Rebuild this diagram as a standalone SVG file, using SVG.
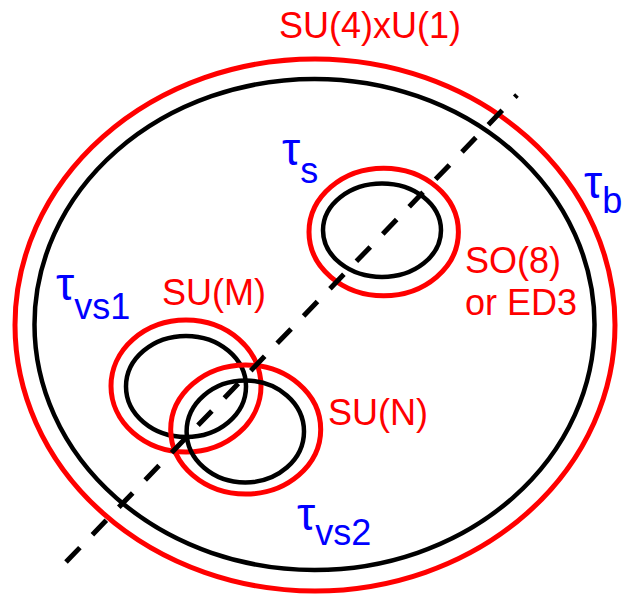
<svg xmlns="http://www.w3.org/2000/svg" width="627" height="596" viewBox="0 0 627 596">
<style>
.r{fill:none;stroke:#ff0000;stroke-width:5}
.k{fill:none;stroke:#000000;stroke-width:4.5}
.lr{font-family:"Liberation Sans",Arial,sans-serif;font-size:36px;fill:#ff0000}
.lb{font-family:"Liberation Sans",Arial,sans-serif;font-size:36px;fill:#0000ff}
.t{font-size:46px}
.d{stroke:#000;stroke-width:5;stroke-dasharray:20 18;fill:none}
</style>
<rect width="627" height="596" fill="#fff"/>
<g id="bulk">
<ellipse class="r" cx="315" cy="325" rx="300" ry="266"/>
<ellipse class="k" cx="314.5" cy="324.5" rx="280" ry="245.5"/>
<text class="lr" x="279" y="38">SU(4)xU(1)</text>
<text class="lb" x="584" y="198"><tspan class="t">τ</tspan><tspan dy="15">b</tspan></text>
</g>
<g id="so8">
<ellipse class="r" cx="383.7" cy="232" rx="74.7" ry="63.7"/>
<ellipse class="k" cx="382" cy="230.3" rx="59" ry="46.7"/>
<text class="lr" x="465" y="273">SO(8)</text>
<text class="lr" x="465" y="315">or ED3</text>
<text class="lb" x="282" y="165"><tspan class="t">τ</tspan><tspan dy="18">s</tspan></text>
</g>
<g id="sum">
<ellipse class="r" cx="186" cy="386" rx="75" ry="66"/>
<ellipse class="k" cx="186" cy="386.5" rx="60" ry="50.5"/>
<text class="lr" x="162" y="305">SU(M)</text>
<text class="lb" x="56" y="300"><tspan class="t">τ</tspan><tspan dy="19">vs1</tspan></text>
</g>
<g id="sun">
<ellipse class="r" cx="245.7" cy="429.5" rx="75" ry="64.5"/>
<ellipse class="k" cx="245.3" cy="431.5" rx="58.7" ry="51"/>
<text class="lr" x="328" y="425">SU(N)</text>
<text class="lb" x="297" y="530"><tspan class="t">τ</tspan><tspan dy="15">vs2</tspan></text>
</g>
<g id="connectors">
<line class="d" x1="66" y1="562" x2="517" y2="95"/>
</g>
</svg>
